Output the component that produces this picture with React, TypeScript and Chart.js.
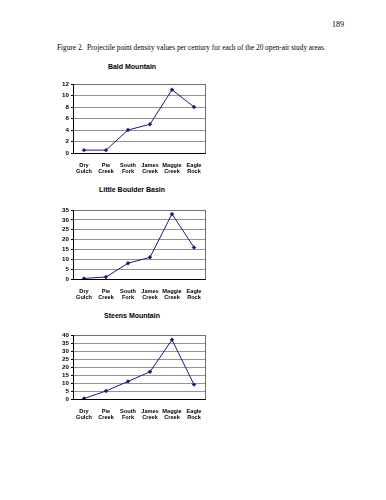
import React, { useEffect, useRef } from "react";
import { Chart, registerables } from "chart.js";

Chart.register(...registerables);

const categories: string[][] = [
  ["Dry", "Gulch"],
  ["Pie", "Creek"],
  ["South", "Fork"],
  ["James", "Creek"],
  ["Maggie", "Creek"],
  ["Eagle", "Rock"],
];

const baldMountain = [0.5, 0.5, 4, 5, 11, 8];
const littleBoulderBasin = [0.3, 1, 8, 11, 33, 16];
const steensMountain = [0.3, 5, 11, 17, 37, 9];

const baldTicks = [0, 2, 4, 6, 8, 10, 12];
const littleBoulderTicks = [0, 5, 10, 15, 20, 25, 30, 35];
const steensTicks = [0, 5, 10, 15, 20, 25, 30, 35, 40];

const pageNumber = "189";
const caption =
  "Figure 2.  Projectile point density values per century for each of the 20 open-air study areas.";

const CANVAS_LEFT = 40;
const PLOT_LEFT = 73;
const PLOT_RIGHT = 205;
const CANVAS_RIGHT = 215;
const TOP_PAD = 6;
const X_AXIS_H = 25;

const framePlugin = {
  id: "frame",
  afterDraw(chart: any) {
    const { ctx, chartArea } = chart;
    ctx.save();
    ctx.strokeStyle = "#707070";
    ctx.lineWidth = 1;
    ctx.strokeRect(
      Math.round(chartArea.left) + 0.5,
      Math.round(chartArea.top) + 0.5,
      Math.round(chartArea.right - chartArea.left),
      Math.round(chartArea.bottom - chartArea.top)
    );
    ctx.strokeStyle = "#000000";
    ctx.beginPath();
    ctx.moveTo(Math.round(chartArea.left) + 0.5, Math.round(chartArea.top));
    ctx.lineTo(Math.round(chartArea.left) + 0.5, Math.round(chartArea.bottom) + 0.5);
    ctx.lineTo(Math.round(chartArea.right) + 0.5, Math.round(chartArea.bottom) + 0.5);
    ctx.stroke();
    ctx.restore();
  },
};

function LineChart(props: {
  values: number[];
  ticks: number[];
  plotTop: number;
  plotBottom: number;
}) {
  const ref = useRef<HTMLCanvasElement>(null);
  const { values, ticks, plotTop, plotBottom } = props;
  const width = CANVAS_RIGHT - CANVAS_LEFT;
  const height = plotBottom - plotTop + TOP_PAD + X_AXIS_H;

  useEffect(() => {
    if (!ref.current) return;
    const chart = new Chart(ref.current, {
      type: "line",
      data: {
        labels: categories,
        datasets: [
          {
            data: values,
            borderColor: "#1a1a80",
            backgroundColor: "#1a1a80",
            borderWidth: 1,
            pointStyle: "rectRot",
            pointRadius: 2.2,
            pointBorderWidth: 0,
            tension: 0,
          },
        ],
      },
      options: {
        animation: false,
        responsive: false,
        maintainAspectRatio: false,
        devicePixelRatio: 1,
        layout: {
          autoPadding: false,
          padding: { left: 0, right: CANVAS_RIGHT - PLOT_RIGHT, top: TOP_PAD, bottom: 0 },
        },
        plugins: {
          legend: { display: false },
          title: { display: false },
          tooltip: { enabled: false },
        },
        scales: {
          x: {
            type: "category",
            offset: true,
            border: { display: false },
            grid: { display: false },
            ticks: {
              color: "#000",
              font: { family: "Liberation Sans", size: 5.6, weight: "bold", lineHeight: 1.05 },
              padding: 2,
              maxRotation: 0,
              autoSkip: false,
            },
            afterFit(scale: any) {
              scale.height = X_AXIS_H;
            },
          },
          y: {
            min: ticks[0],
            max: ticks[ticks.length - 1],
            border: { display: false },
            grid: {
              color: "#939393",
              lineWidth: 1,
              tickLength: 2,
              tickColor: "#000",
            },
            ticks: {
              color: "#000",
              font: { family: "Liberation Sans", size: 6.2, weight: "bold" },
              padding: 2,
              autoSkip: false,
            },
            afterBuildTicks(scale: any) {
              scale.ticks = ticks.map((v) => ({ value: v }));
            },
            afterFit(scale: any) {
              scale.width = PLOT_LEFT - CANVAS_LEFT;
            },
          },
        },
      },
      plugins: [framePlugin],
    });
    return () => chart.destroy();
  }, [values, ticks, plotTop, plotBottom]);

  return (
    <canvas
      ref={ref}
      width={width}
      height={height}
      style={{
        position: "absolute",
        left: CANVAS_LEFT,
        top: plotTop - TOP_PAD,
        width,
        height,
      }}
    />
  );
}

function Title(props: { text: string; y: number }) {
  return (
    <div
      style={{
        position: "absolute",
        left: 62,
        width: 140,
        top: props.y - 4,
        height: 8,
        lineHeight: "8px",
        textAlign: "center",
        fontFamily: "Liberation Sans, Arial, sans-serif",
        fontWeight: "bold",
        fontSize: 7,
        color: "#000",
        whiteSpace: "nowrap",
      }}
    >
      {props.text}
    </div>
  );
}

export default function App() {
  return (
    <div
      style={{
        position: "absolute",
        left: 0,
        top: 0,
        width: 386,
        height: 500,
        background: "#fff",
        overflow: "hidden",
      }}
    >
      <div
        style={{
          position: "absolute",
          left: 332,
          top: 21,
          lineHeight: "8px",
          fontFamily: "Liberation Serif, Times New Roman, serif",
          fontSize: 8,
          color: "#000",
        }}
      >
        {pageNumber}
      </div>
      <div
        style={{
          position: "absolute",
          left: 57,
          top: 44,
          lineHeight: "8px",
          fontFamily: "Liberation Serif, Times New Roman, serif",
          fontSize: 7.3,
          color: "#000",
          whiteSpace: "pre",
        }}
      >
        {caption}
      </div>

      <Title text="Bald Mountain" y={67} />
      <LineChart values={baldMountain} ticks={baldTicks} plotTop={84} plotBottom={153} />

      <Title text="Little Boulder Basin" y={190} />
      <LineChart values={littleBoulderBasin} ticks={littleBoulderTicks} plotTop={210} plotBottom={279} />

      <Title text="Steens Mountain" y={316} />
      <LineChart values={steensMountain} ticks={steensTicks} plotTop={335} plotBottom={399} />
    </div>
  );
}
